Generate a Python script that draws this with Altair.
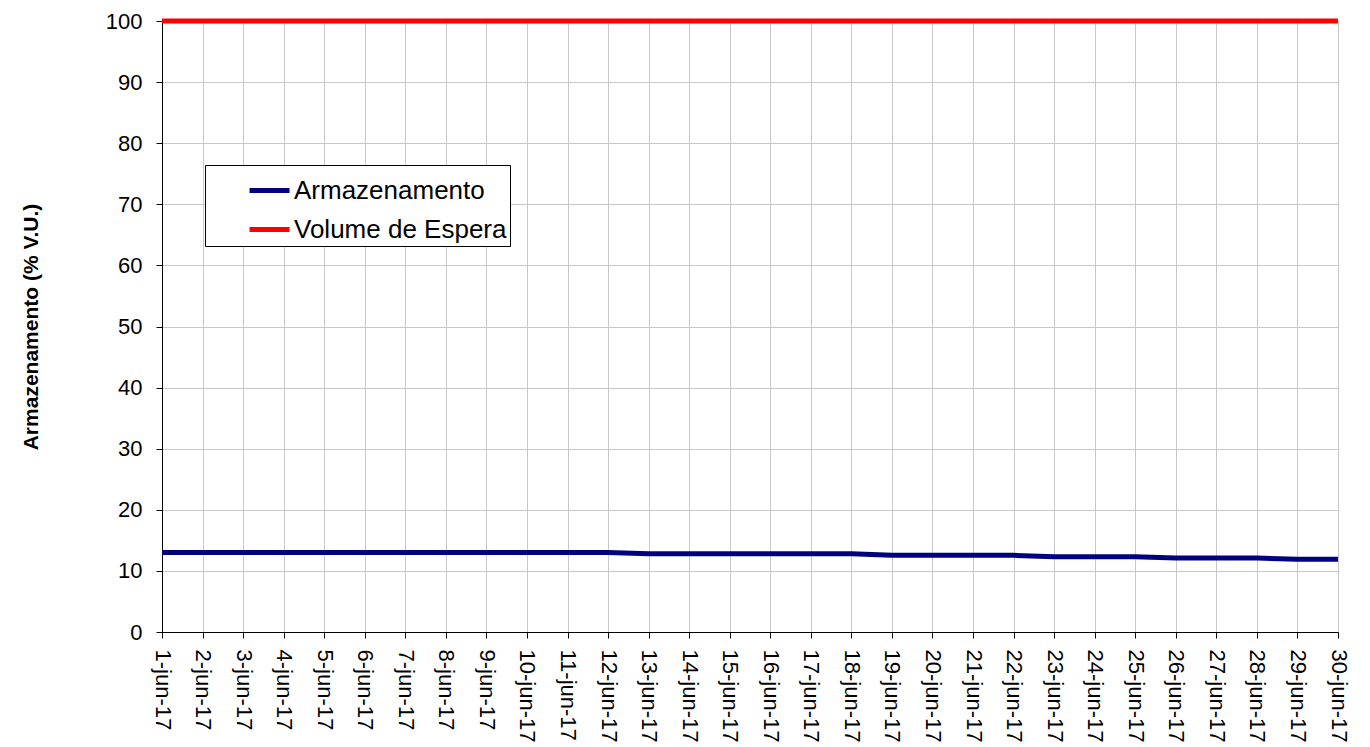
import altair as alt
import pandas as pd

days = [f"{d}-jun-17" for d in range(1, 31)]
armazenamento = [13.0]*12 + [12.8]*6 + [12.55]*4 + [12.33]*3 + [12.1]*3 + [11.9]*2
volume_espera = [100.0]*30
series_names = ["Armazenamento", "Volume de Espera"]
series_colors = ["#000080", "#ff0000"]

rows = []
for d, a, v in zip(days, armazenamento, volume_espera):
    rows.append({"dia": d, "serie": series_names[0], "valor": a})
    rows.append({"dia": d, "serie": series_names[1], "valor": v})
df = pd.DataFrame(rows)

font = "Liberation Sans"

chart = alt.Chart(df).mark_line(strokeWidth=5).encode(
    x=alt.X("dia:O", sort=days, scale=alt.Scale(type="point", padding=0),
            axis=alt.Axis(title=None, labelAngle=90, labelAlign="left", labelBaseline="middle",
                          labelFontSize=22, labelPadding=11, tickSize=6, tickColor="black",
                          domainColor="black", gridColor="#c8c8c8", grid=True, labelColor="black",
                          labelOverlap=False, labelLimit=200)),
    y=alt.Y("valor:Q", scale=alt.Scale(domain=[0, 100], nice=False),
            axis=alt.Axis(title="Armazenamento (% V.U.)", values=list(range(0, 101, 10)),
                          labelFontSize=22, labelPadding=14, tickSize=6, tickColor="black",
                          domainColor="black", gridColor="#c8c8c8", titleFontSize=21,
                          titleFontWeight="bold", titlePadding=64, labelColor="black",
                          titleColor="black")),
    color=alt.Color("serie:N", scale=alt.Scale(domain=series_names, range=series_colors),
                    legend=alt.Legend(title=None, orient="none", legendX=43, legendY=144,
                                      fillColor="white", strokeColor="black", padding=3,
                                      symbolType="stroke", symbolSize=1600, symbolStrokeWidth=5,
                                      symbolOffset=39, labelFontSize=26, labelOffset=2,
                                      rowPadding=3, labelColor="black", labelLimit=500)),
).properties(
    width=1176, height=611,
    autosize=alt.AutoSizeParams(type="none"),
    padding={"left": 154, "top": 13, "right": 20, "bottom": 110},
).configure(font=font).configure_view(stroke="#808080")

chart.save("out.html", embed_options={"renderer": "svg", "actions": False})
